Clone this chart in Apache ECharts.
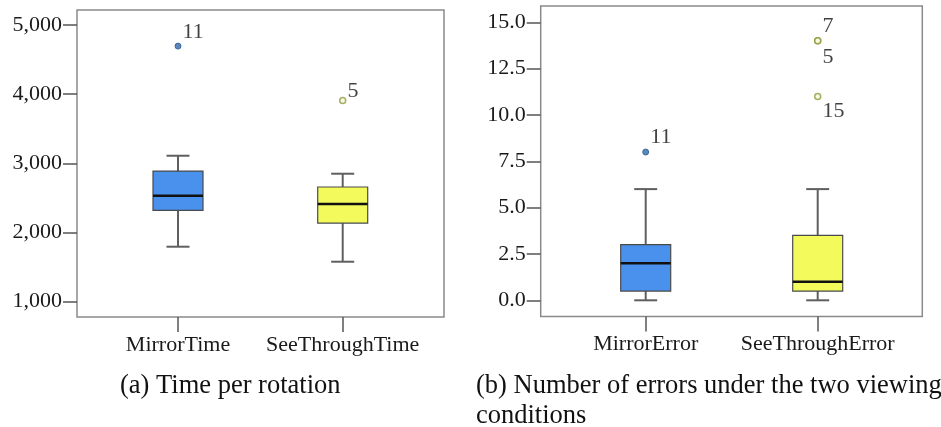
<!DOCTYPE html>
<html>
<head>
<meta charset="utf-8">
<script src="https://cdn.jsdelivr.net/npm/echarts@6/dist/echarts.min.js"></script>
<style>
  html, body { margin: 0; padding: 0; background: #ffffff; }
  #chart { width: 941px; height: 427px; }
</style>
</head>
<body>
<div id="chart"></div>
<script>
// ---------- data ----------
const timeCategories = ['MirrorTime', 'SeeThroughTime'];
// [min, Q1, median, Q3, max]
const timeMirrorBox = [1795, 2321, 2532, 2889, 3110];
const timeSeeThroughBox = [1578, 2137, 2412, 2658, 2850];
// [category index, value, case label]
const timeOutliers = [[0, 4695, '11'], [1, 3910, '5']];
const timeTicks = [1000, 2000, 3000, 4000, 5000];

const errorCategories = ['MirrorError', 'SeeThroughError'];
const errorMirrorBox = [0, 0.5, 2, 3, 6];
const errorSeeThroughBox = [0, 0.5, 1, 3.5, 6];
const errorOutliers = [[0, 8, '11'], [1, 14, '7'], [1, 14, '5'], [1, 11, '15']];
const errorTicks = [0, 2.5, 5, 7.5, 10, 12.5, 15];

const captionA = '(a) Time per rotation';
const captionB = '(b) Number of errors under the two viewing\nconditions';

// ---------- styles ----------
const SERIF = '"Liberation Serif", "Times New Roman", serif';
const boxColors = ['#4a91ee', '#f3fb5c'];
const outlierStyles = [
  { color: '#3569a8', borderColor: '#2b5a92', borderWidth: 1 },
  { color: '#f7f9dc', borderColor: '#8f9a3e', borderWidth: 1.5 }
];
// vertical label shift for each outlier label (above / below the point)
const timeLabelDy = [-14, -9];
const errorLabelDy = [-15, -15, 16, 15];

const chart = echarts.init(document.getElementById('chart'), null, { renderer: 'canvas' });

function boxItem(idx, arr) { return [idx].concat(arr); }

function renderBox(params, api) {
  const idx = api.value(0);
  const lo = api.coord([idx, api.value(1)]);
  const q1 = api.coord([idx, api.value(2)]);
  const md = api.coord([idx, api.value(3)]);
  const q3 = api.coord([idx, api.value(4)]);
  const hi = api.coord([idx, api.value(5)]);
  const x = lo[0];
  const halfBox = 25, halfCap = 11.5;
  const whisker = { stroke: '#5f5f5f', lineWidth: 2 };
  return {
    type: 'group',
    children: [
      { type: 'line', shape: { x1: x, y1: hi[1], x2: x, y2: q3[1] }, style: whisker },
      { type: 'line', shape: { x1: x, y1: q1[1], x2: x, y2: lo[1] }, style: whisker },
      { type: 'line', shape: { x1: x - halfCap, y1: hi[1], x2: x + halfCap, y2: hi[1] }, style: whisker },
      { type: 'line', shape: { x1: x - halfCap, y1: lo[1], x2: x + halfCap, y2: lo[1] }, style: whisker },
      { type: 'rect', shape: { x: x - halfBox, y: q3[1], width: 2 * halfBox, height: q1[1] - q3[1] },
        style: { fill: boxColors[idx], stroke: '#4a4a4a', lineWidth: 1.2 } },
      { type: 'line', shape: { x1: x - halfBox, y1: md[1], x2: x + halfBox, y2: md[1] },
        style: { stroke: '#111111', lineWidth: 2.6 } }
    ]
  };
}

function outlierData(list, dys) {
  return list.map((o, i) => ({
    value: [o[0], o[1]],
    itemStyle: outlierStyles[o[0]],
    label: { show: true, formatter: o[2], position: 'right', distance: 1, offset: [0, dys[i]] }
  }));
}

const axisLabelStyle = { fontFamily: SERIF, fontSize: 22, color: '#1a1a1a' };
const tickStyle = { lineStyle: { color: '#555555', width: 1.5 } };

const option = {
  backgroundColor: '#ffffff',
  animation: false,
  title: [
    { text: captionA, left: 120, top: 371, padding: 0,
      textStyle: { fontFamily: SERIF, fontSize: 26.5, fontWeight: 'normal', color: '#111111', lineHeight: 30 } },
    { text: captionB, left: 476, top: 371, padding: 0,
      textStyle: { fontFamily: SERIF, fontSize: 26.5, fontWeight: 'normal', color: '#111111', lineHeight: 30 } }
  ],
  grid: [
    { left: 77, top: 10, width: 367, height: 307, show: true, borderColor: '#8a8a8a', borderWidth: 1.5, backgroundColor: 'transparent' },
    { left: 95.65, top: 25, width: 329.4, height: 276.7 },
    { left: 540.7, top: 6, width: 381.6, height: 310.5, show: true, borderColor: '#8a8a8a', borderWidth: 1.5, backgroundColor: 'transparent' },
    { left: 559.7, top: 22.3, width: 344, height: 278 }
  ],
  xAxis: [
    { type: 'category', gridIndex: 1, data: timeCategories, boundaryGap: true, offset: 15.3,
      axisLine: { show: false, onZero: false },
      axisTick: Object.assign({ show: true, alignWithLabel: true, interval: 0, length: 15 }, tickStyle),
      axisLabel: Object.assign({ margin: 17, interval: 0 }, axisLabelStyle),
      splitLine: { show: false } },
    { type: 'category', gridIndex: 3, data: errorCategories, boundaryGap: true, offset: 16.2,
      axisLine: { show: false, onZero: false },
      axisTick: Object.assign({ show: true, alignWithLabel: true, interval: 0, length: 15 }, tickStyle),
      axisLabel: Object.assign({ margin: 17, interval: 0 }, axisLabelStyle),
      splitLine: { show: false } }
  ],
  yAxis: [
    { type: 'value', gridIndex: 1, min: timeTicks[0], max: timeTicks[timeTicks.length - 1], interval: 1000,
      offset: 18.65,
      axisLine: { show: false, onZero: false },
      axisTick: Object.assign({ show: true, length: 14 }, tickStyle),
      axisLabel: Object.assign({ margin: 15, formatter: v => v.toLocaleString('en-US') }, axisLabelStyle),
      splitLine: { show: false } },
    { type: 'value', gridIndex: 3, min: errorTicks[0], max: errorTicks[errorTicks.length - 1], interval: 2.5,
      offset: 19,
      axisLine: { show: false, onZero: false },
      axisTick: Object.assign({ show: true, length: 14 }, tickStyle),
      axisLabel: Object.assign({ margin: 15, formatter: v => v.toFixed(1) }, axisLabelStyle),
      splitLine: { show: false } }
  ],
  series: [
    { type: 'custom', xAxisIndex: 0, yAxisIndex: 0, renderItem: renderBox,
      data: [boxItem(0, timeMirrorBox), boxItem(1, timeSeeThroughBox)] },
    { type: 'scatter', xAxisIndex: 0, yAxisIndex: 0, symbol: 'circle', symbolSize: 6,
      label: { fontFamily: SERIF, fontSize: 22, color: '#111111' },
      data: outlierData(timeOutliers, timeLabelDy) },
    { type: 'custom', xAxisIndex: 1, yAxisIndex: 1, renderItem: renderBox,
      data: [boxItem(0, errorMirrorBox), boxItem(1, errorSeeThroughBox)] },
    { type: 'scatter', xAxisIndex: 1, yAxisIndex: 1, symbol: 'circle', symbolSize: 6,
      label: { fontFamily: SERIF, fontSize: 22, color: '#111111' },
      data: outlierData(errorOutliers, errorLabelDy) }
  ]
};

chart.setOption(option);
</script>
</body>
</html>
